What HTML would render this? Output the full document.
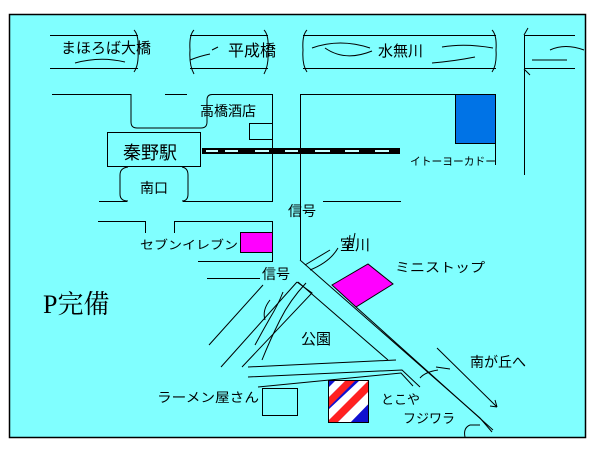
<!DOCTYPE html>
<html><head><meta charset="utf-8"><style>
html,body{margin:0;padding:0;background:#fff;width:610px;height:453px;overflow:hidden}
svg{display:block}
text{font-family:"Liberation Sans","Noto Sans CJK JP",sans-serif;fill:#000}
</style></head><body>
<svg width="610" height="453" viewBox="0 0 610 453" xmlns="http://www.w3.org/2000/svg">
<rect x="9.5" y="14.5" width="576" height="423" fill="#80ffff" stroke="#000" stroke-width="1.5"/>
<g stroke="#000" stroke-width="1" fill="none">
<path d="M50 35.5H138M50 68.5H138"/>
<path d="M134 30Q139 35 138 50Q139 65 134 72"/>
<path d="M75 63Q100 56 125 62"/>
<path d="M190 35.5H268M190 68.5H268"/>
<path d="M194 30Q189 35 190 50Q189 65 194 74M264 30Q269 35 268 50Q269 65 264 74"/>
<path d="M190 60Q200 56 210 54M212 50L218 47"/>
<path d="M303 35.5H496M303 68.5H496"/>
<path d="M307 30Q302 35 303 50Q302 65 307 72M492 30Q497 35 496 50Q497 65 492 72"/>
<path d="M312 48Q340 38 370 48M325 48Q345 62 372 51"/>
<path d="M442 47Q465 43 493 48M432 63Q455 61 475 57"/>
<path d="M524.5 35V175M524 35.5H575M524 68.5H575"/>
<path d="M528 28L524 35M524 69L530 75"/>
<path d="M550 50Q565 43 584 50M532 60H567"/>
<path d="M52 94.5H131V122Q131 128 137 128H201Q207 128 207 122V100Q207 94.5 212 94.5H272.5V202"/>
<path d="M165 94.5H187"/>
<rect x="249.5" y="123.5" width="23" height="16"/>
<rect x="107.5" y="132.5" width="93" height="34"/>
<path d="M128 167Q120 168 120 175V194Q120 201 128 201M182 167Q188 168 188 175V194Q188 201 182 201"/>
<path d="M99 201.5H127M183 201.5H272"/>
<path d="M300.5 94.5H495.5V165M300.5 94V260"/>
<path d="M323 201.5H401"/>
<path d="M98 221.5H145.5V233M174.5 233V221.5H272.5V262M198 261.5H272"/>
<path d="M207 278.5H260"/>
<path d="M263 285L209 345M297 282L221 367M297 282L312 293L242 367"/>
<path d="M298 282L388 360"/>
<path d="M300 260L480 418M480 418L492 432"/>
<path d="M333 285L356 307L493 430"/>
<path d="M305 265L330 250M310 270Q330 262 338 248M340 286L365 270M342 283L337 282"/>
<path d="M350 235L348 250M355 233L352 248"/>
<path d="M306 283Q290 300 280 320Q270 340 262 360M270 300Q262 310 265 320M283 292Q278 305 270 318Q262 332 255 345"/>
<path d="M248 367L396 360"/>
<path d="M248 377L402 370L420 387"/>
<path d="M258 387L401 373L413 386"/>
<rect x="262.5" y="388.5" width="35" height="27"/>
<path d="M437 348L497 407M497 407L490 406M497 407L495 400"/>
<path d="M420 378Q425 372 438 370M436 367L450 369"/>
<path d="M470 425Q463 428 465 437M470 425H480"/>
</g>
<rect x="202" y="148" width="198" height="6" fill="#000"/>
<g fill="#c8ffff"><rect x="206" y="150" width="12" height="2"/><rect x="225" y="150" width="13" height="2"/><rect x="255" y="150" width="14" height="2"/><rect x="285" y="150" width="13" height="2"/><rect x="315" y="150" width="15" height="2"/><rect x="345" y="150" width="14" height="2"/><rect x="375" y="150" width="14" height="2"/></g>
<rect x="455.5" y="94.5" width="40" height="49" fill="#0073e6" stroke="#000"/>
<rect x="240.5" y="232.5" width="32" height="20" fill="#ff00ff" stroke="#000"/>
<polygon points="332,285 368,264 393,284 356,307" fill="#ff00ff" stroke="#000"/>
<defs><clipPath id="c"><rect x="328" y="380" width="41" height="43"/></clipPath></defs>
<rect x="328" y="380" width="41" height="43" fill="#1010d0"/>
<g clip-path="url(#c)">
<polygon points="328,410 360,380 372,380 328,421" fill="#fff"/>
<polygon points="328,421 369,380 380,380 335,425 328,425" fill="#ff2020"/>
<polygon points="335,425 380,380 380,392 348,425" fill="#fff"/>
<polygon points="328,398 346,380 356,380 328,408" fill="#ff2020"/>
<polygon points="328,388 336,380 346,380 328,398" fill="#fff"/>
</g>
<rect x="328.5" y="380.5" width="40" height="42" fill="none" stroke="#000"/>
<text x="61" y="53" font-size="15">まほろば大橋</text>
<text x="228" y="56" font-size="16">平成橋</text>
<text x="378" y="56" font-size="15">水無川</text>
<text x="200" y="116" font-size="14">高橋酒店</text>
<text x="123" y="159" font-size="18">秦野駅</text>
<text x="140" y="193" font-size="14">南口</text>
<text x="410" y="165" font-size="11" textLength="86" lengthAdjust="spacingAndGlyphs">イトーヨーカドー</text>
<text x="288" y="216" font-size="14">信号</text>
<text x="140" y="249" font-size="12" textLength="98" lengthAdjust="spacingAndGlyphs">セブンイレブン</text>
<text x="262" y="279" font-size="14">信号</text>
<text x="340" y="250" font-size="15">室川</text>
<text x="395" y="272" font-size="13" textLength="90" lengthAdjust="spacingAndGlyphs">ミニストップ</text>
<text x="43" y="313" font-size="26" style="font-family:'Liberation Serif','Noto Serif CJK SC',serif">P完備</text>
<text x="301" y="344" font-size="15">公園</text>
<text x="470" y="367" font-size="14">南が丘へ</text>
<text x="157" y="402" font-size="13" textLength="102" lengthAdjust="spacingAndGlyphs">ラーメン屋さん</text>
<text x="381" y="404" font-size="13">とこや</text>
<text x="403" y="423" font-size="13">フジワラ</text>
</svg>
</body></html>
